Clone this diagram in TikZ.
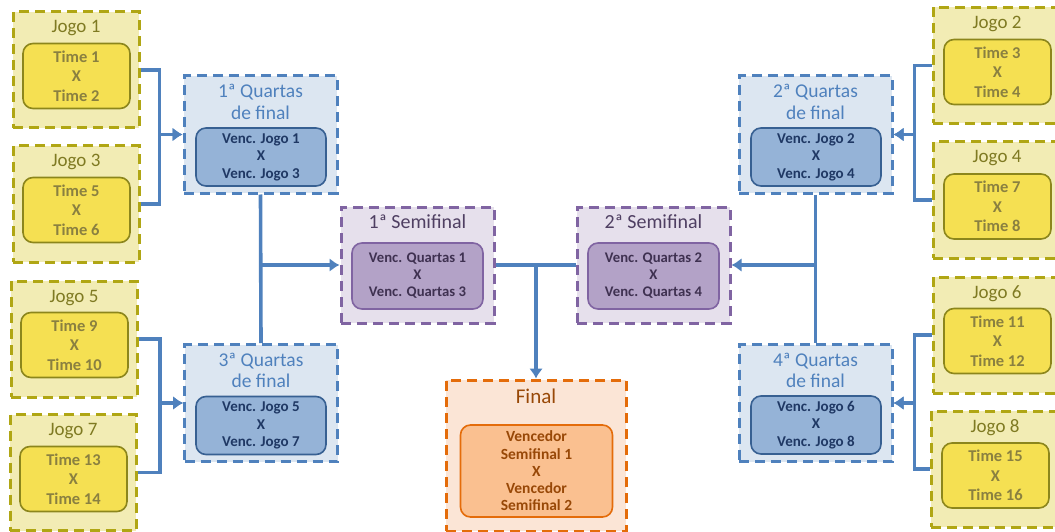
\documentclass[tikz,border=0pt]{standalone}
\usepackage{fontspec}
\setmainfont{Carlito}
\usetikzlibrary{positioning,arrows.meta}

\definecolor{jogoback}{HTML}{F2ECB4}
\definecolor{jogoline}{HTML}{B0A614}
\definecolor{jogotext}{HTML}{7F7A22}
\definecolor{timeback}{HTML}{F5E052}
\definecolor{timeline}{HTML}{8C861C}
\definecolor{timetext}{HTML}{8A8040}
\definecolor{quartback}{HTML}{DCE6F1}
\definecolor{quartline}{HTML}{4F81BD}
\definecolor{vencback}{HTML}{95B3D7}
\definecolor{vencline}{HTML}{376092}
\definecolor{venctext}{HTML}{1F3864}
\definecolor{semiback}{HTML}{E6E0EC}
\definecolor{semiline}{HTML}{8064A2}
\definecolor{semitext}{HTML}{4F3F62}
\definecolor{svencback}{HTML}{B3A2C7}
\definecolor{svenctext}{HTML}{3F3151}
\definecolor{finalback}{HTML}{FBE5D6}
\definecolor{finalline}{HTML}{E46C0A}
\definecolor{finaltext}{HTML}{984807}
\definecolor{fvencback}{HTML}{FAC090}

\tikzset{
  outerbox/.style={rectangle, inner sep=0pt, line width=3pt, dash pattern=on 10pt off 6pt},
  innerbox/.style={rectangle, rounded corners=10pt, line width=1.6pt, align=center, inner sep=0pt},
  jogo/.style={outerbox, draw=jogoline, fill=jogoback, minimum width=126pt, minimum height=116pt},
  jogotitle/.style={anchor=base, inner sep=0pt, text=jogotext, font=\fontsize{19}{22}\selectfont},
  time/.style={innerbox, draw=timeline, fill=timeback, text=timetext, minimum width=107pt, minimum height=65pt, font=\bfseries\fontsize{16.5}{19.5}\selectfont},
  quartas/.style={outerbox, draw=quartline, fill=quartback, minimum width=153pt, minimum height=117pt},
  quartastitle/.style={anchor=north, inner sep=0pt, align=center, text=quartline, font=\fontsize{19.5}{21.5}\selectfont},
  venc/.style={innerbox, draw=vencline, fill=vencback, text=venctext, minimum width=130pt, minimum height=58pt, font=\bfseries\fontsize{15}{17.5}\selectfont},
  semi/.style={outerbox, draw=semiline, fill=semiback, minimum width=153pt, minimum height=116pt},
  semititle/.style={anchor=base, inner sep=0pt, text=semitext, font=\fontsize{20}{23}\selectfont},
  svenc/.style={innerbox, draw=semiline, fill=svencback, text=svenctext, minimum width=131pt, minimum height=66pt, font=\bfseries\fontsize{14.7}{17}\selectfont},
  final/.style={outerbox, draw=finalline, fill=finalback, minimum width=180pt, minimum height=151pt},
  finaltitle/.style={anchor=base, inner sep=0pt, text=finaltext, font=\fontsize{21}{24}\selectfont},
  fvenc/.style={innerbox, draw=finalline, fill=fvencback, text=finaltext, minimum width=152pt, minimum height=92pt, font=\bfseries\fontsize{15.5}{17.3}\selectfont},
  link/.style={draw=quartline, line width=3.6pt},
  arrow/.style={link, -{Latex[length=10pt,width=14pt]}}
}

\begin{document}
\begin{tikzpicture}[x=1pt, y=-1pt]
\useasboundingbox (0,0) rectangle (1055,532);

% jogos, lado esquerdo
\node[jogo] (j1) at (76,70) {};
\node[jogotitle] (j1t) at (76,33) {Jogo 1};
\node[time] (j1i) at (76.5,76) {Time 1\\X\\Time 2};
\node[jogo] (j3) at (76,204) {};
\node[jogotitle] (j3t) at (76,167) {Jogo 3};
\node[time] (j3i) at (76.5,210) {Time 5\\X\\Time 6};
\node[jogo] (j5) at (74,339) {};
\node[jogotitle] (j5t) at (74,302) {Jogo 5};
\node[time] (j5i) at (74.5,345) {Time 9\\X\\Time 10};
\node[jogo] (j7) at (73,472.5) {};
\node[jogotitle] (j7t) at (73,435.5) {Jogo 7};
\node[time] (j7i) at (73.5,479) {Time 13\\X\\Time 14};

% jogos, lado direito
\node[jogo] (j2) at (996,65.5) {};
\node[jogotitle] (j2t) at (997,28.5) {Jogo 2};
\node[time] (j2i) at (997.5,72) {Time 3\\X\\Time 4};
\node[jogo] (j4) at (996,200) {};
\node[jogotitle] (j4t) at (997,163) {Jogo 4};
\node[time] (j4i) at (997.5,206.5) {Time 7\\X\\Time 8};
\node[jogo] (j6) at (996,335) {};
\node[jogotitle] (j6t) at (997,298) {Jogo 6};
\node[time] (j6i) at (997.5,341) {Time 11\\X\\Time 12};
\node[jogo] (j8) at (994,469) {};
\node[jogotitle] (j8t) at (995,432) {Jogo 8};
\node[time] (j8i) at (995.5,475.5) {Time 15\\X\\Time 16};

% quartas de final
\node[quartas] (q1) at (260.5,134.5) {};
\node[quartastitle] (q1t) at (260.5,84) {1ª Quartas\\de final};
\node[venc] (q1i) at (261,157) {Venc. Jogo 1\\X\\Venc. Jogo 3};
\node[quartas] (q3) at (261,403) {};
\node[quartastitle] (q3t) at (261,352.5) {3ª Quartas\\de final};
\node[venc] (q3i) at (261,425.5) {Venc. Jogo 5\\X\\Venc. Jogo 7};
\node[quartas] (q2) at (815.5,134.5) {};
\node[quartastitle] (q2t) at (815.5,84) {2ª Quartas\\de final};
\node[venc] (q2i) at (816,157) {Venc. Jogo 2\\X\\Venc. Jogo 4};
\node[quartas] (q4) at (815.5,403) {};
\node[quartastitle] (q4t) at (815.5,352.5) {4ª Quartas\\de final};
\node[venc] (q4i) at (816,425) {Venc. Jogo 6\\X\\Venc. Jogo 8};

% semifinais
\node[semi] (s1) at (417.5,265) {};
\node[semititle] (s1t) at (417.5,228) {1ª Semifinal};
\node[svenc] (s1i) at (417.5,276) {Venc. Quartas 1\\X\\Venc. Quartas 3};
\node[semi] (s2) at (653.5,265) {};
\node[semititle] (s2t) at (653.5,228) {2ª Semifinal};
\node[svenc] (s2i) at (653.5,276) {Venc. Quartas 2\\X\\Venc. Quartas 4};

% final
\node[final] (f) at (536,455.5) {};
\node[finaltitle] (ft) at (536,403) {Final};
\node[fvenc] (fi) at (536.5,471) {Vencedor\\Semifinal 1\\X\\Vencedor\\Semifinal 2};

% ligacoes
\draw[arrow] (j1.east) -| ([xshift=-23pt]q1.west) -- (q1.west);
\draw[arrow] (j3.east) -| ([xshift=-23pt]q1.west) -- (q1.west);
\draw[arrow] (j5.east) -| ([xshift=-23pt]q3.west) -- (q3.west);
\draw[arrow] (j7.east) -| ([xshift=-23pt]q3.west) -- (q3.west);
\draw[arrow] (j2.west) -| ([xshift=21pt]q2.east) -- (q2.east);
\draw[arrow] (j4.west) -| ([xshift=21pt]q2.east) -- (q2.east);
\draw[arrow] (j6.west) -| ([xshift=21pt]q4.east) -- (q4.east);
\draw[arrow] (j8.west) -| ([xshift=21pt]q4.east) -- (q4.east);
\draw[link] (q1.south) -- (q3.north);
\draw[arrow] (q1.south |- s1.west) -- (s1.west);
\draw[link] (q2.south) -- (q4.north);
\draw[arrow] (q2.south |- s2.east) -- (s2.east);
\draw[link] (s1.east) -- (s2.west);
\draw[arrow] (f.north |- s1.east) -- (f.north);
\end{tikzpicture}
\end{document}
